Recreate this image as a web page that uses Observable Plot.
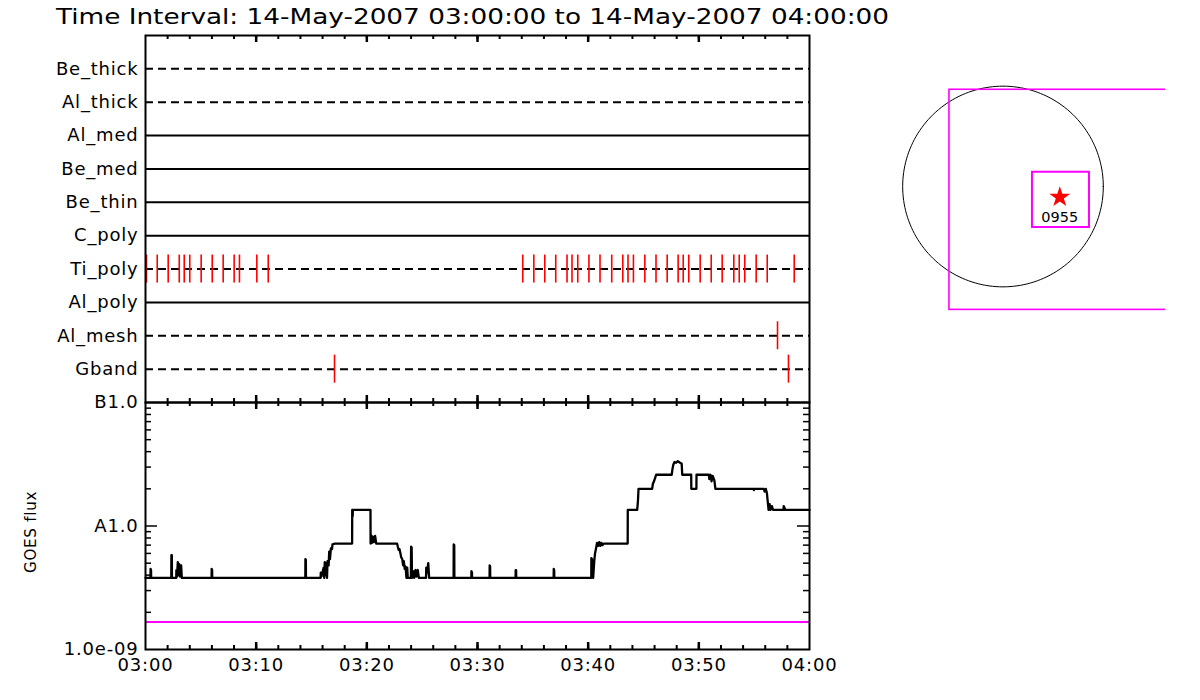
<!DOCTYPE html>
<html><head><meta charset="utf-8">
<script src="https://cdn.jsdelivr.net/npm/d3@7"></script>
<script src="https://cdn.jsdelivr.net/npm/@observablehq/plot@0.6"></script>
<style>
body{margin:0;background:#fff;}
#root{position:relative;width:1200px;height:700px;overflow:hidden;background:#fff;}
#root > svg{position:absolute;}
</style></head><body><div id="root"></div>
<script>
// ---------- data ----------
const titleText = "Time Interval: 14-May-2007 03:00:00 to 14-May-2007 04:00:00";
const rows = ["Be_thick","Al_thick","Al_med","Be_med","Be_thin","C_poly","Ti_poly","Al_poly","Al_mesh","Gband"];
const rowDashed = [true,true,false,false,false,false,true,false,true,true];
// event times, minutes after 03:00
const tiPolyMinutes = [0.09,1.06,2.05,3.05,3.50,4.00,5.03,6.03,7.02,8.01,8.49,10.06,11.09,
  34.09,35.09,36.08,37.07,38.09,38.54,39.06,40.07,41.07,42.13,43.13,43.60,44.09,45.12,46.13,
  47.14,48.13,48.59,49.09,50.12,51.12,52.11,53.16,53.65,54.15,55.18,56.18,58.62];
const alMeshMinutes = [57.11];
const gbandMinutes = [17.08, 58.10];
const xTickLabels = ["03:00","03:10","03:20","03:30","03:40","03:50","04:00"];
const yTickValues = [1e-9, 1e-8, 1e-7];
const yTickLabels = ["1.0e-09", "A1.0", "B1.0"];
const yLabel = "GOES flux";
const goesMinutes = [0,0.45,0.46,0.50,0.51,2.33,2.34,2.38,2.39,2.78,2.79,2.85,2.92,2.98,3.05,3.10,3.22,3.28,
  5.97,5.98,6.02,6.03,14.44,14.45,14.49,14.50,15.82,15.84,15.90,16.10,16.15,16.20,16.27,16.33,16.40,16.45,
  16.55,16.60,16.67,16.75,16.85,16.90,17.11,18.67,18.68,18.72,18.74,20.33,20.34,20.40,20.46,20.55,20.65,
  20.75,20.85,22.74,22.80,22.88,22.95,23.04,23.10,23.20,23.28,23.34,23.42,23.50,23.58,23.65,23.70,23.98,
  24.00,24.05,24.08,24.20,24.28,24.40,24.48,24.60,24.70,25.35,25.37,25.45,25.55,25.63,27.84,27.85,27.90,
  27.91,29.44,29.45,29.50,29.51,31.09,31.10,31.14,31.15,33.44,33.45,33.49,33.50,36.88,36.89,36.93,36.94,
  40.28,40.29,40.35,40.38,40.45,40.55,40.62,40.70,40.80,40.90,41.00,41.10,41.20,41.30,41.40,43.57,43.58,
  44.43,44.50,44.55,45.78,45.85,45.95,46.05,46.14,47.55,47.62,47.70,47.80,47.95,48.10,48.30,48.45,48.50,
  49.31,49.32,49.78,49.79,50.90,50.95,51.05,51.15,51.25,51.40,51.50,54.95,54.97,55.00,55.87,55.95,56.05,
  56.15,56.30,56.40,56.47,56.60,56.70,57.65,57.67,57.75,57.80,60];
const goesFlux = [3.8e-9,3.8e-9,4.5e-9,4.4e-9,3.8e-9,3.8e-9,5.8e-9,5.8e-9,3.8e-9,3.8e-9,4.4e-9,3.9e-9,5.1e-9,4.0e-9,4.9e-9,3.9e-9,4.8e-9,3.8e-9,
  3.8e-9,4.5e-9,4.4e-9,3.8e-9,3.8e-9,5.4e-9,5.3e-9,3.8e-9,3.8e-9,4.2e-9,3.9e-9,4.6e-9,3.8e-9,5.1e-9,4.0e-9,5.0e-9,3.8e-9,5.2e-9,
  4.8e-9,6.2e-9,5.4e-9,6.6e-9,6.5e-9,7.1e-9,7.2e-9,7.2e-9,1.35e-8,1.2e-8,1.35e-8,1.35e-8,7.2e-9,8.4e-9,7.3e-9,8.2e-9,7.4e-9,
  8.3e-9,7.2e-9,7.2e-9,6.8e-9,6.4e-9,6.5e-9,6.0e-9,5.6e-9,5.4e-9,4.8e-9,5.2e-9,4.5e-9,4.7e-9,3.8e-9,4.6e-9,3.8e-9,3.8e-9,
  6.8e-9,6.7e-9,3.8e-9,4.3e-9,3.8e-9,4.4e-9,3.9e-9,4.4e-9,3.8e-9,3.8e-9,4.6e-9,4.2e-9,5.0e-9,3.8e-9,3.8e-9,7.1e-9,7.0e-9,
  3.8e-9,3.8e-9,4.3e-9,4.2e-9,3.8e-9,3.8e-9,4.8e-9,4.7e-9,3.8e-9,3.8e-9,4.4e-9,4.4e-9,3.8e-9,3.8e-9,4.5e-9,4.4e-9,3.8e-9,
  3.8e-9,5.5e-9,5.4e-9,4.2e-9,3.8e-9,5.2e-9,6.0e-9,6.5e-9,7.3e-9,6.9e-9,7.4e-9,6.9e-9,7.3e-9,7.0e-9,7.2e-9,7.2e-9,1.35e-8,
  1.35e-8,1.6e-8,2.0e-8,2.0e-8,2.2e-8,2.3e-8,2.45e-8,2.6e-8,2.6e-8,2.9e-8,3.15e-8,3.3e-8,3.25e-8,3.35e-8,3.25e-8,3.2e-8,2.6e-8,
  2.6e-8,2.0e-8,2.0e-8,2.6e-8,2.6e-8,2.4e-8,2.6e-8,2.3e-8,2.55e-8,2.35e-8,2.0e-8,2.0e-8,1.95e-8,2.0e-8,2.0e-8,1.9e-8,2.0e-8,
  1.85e-8,1.35e-8,1.5e-8,1.35e-8,1.45e-8,1.35e-8,1.35e-8,1.45e-8,1.4e-8,1.35e-8,1.35e-8];
const magentaFlux = 1.67e-9;
// solar image panel (arcsec)
const sunRadius = 950;
const fovX = [-507, 1800];
const fovY = [-1168, 916];
const flareBoxX = [279, 819];
const flareBoxY = [-388, 135];
const flareX = 538;
const flareY = -101;
const flareLabel = "0955";

// ---------- helpers ----------
const FONT = '"DejaVu Sans", sans-serif';
const MAGENTA = "#ff00ff";
const t0 = Date.UTC(2007, 4, 14, 3, 0, 0);
const toDate = m => new Date(t0 + m * 60000);
const xDomain = [toDate(0), toDate(60)];
const xTickDates = xTickLabels.map(s => new Date(`2007-05-14T${s}:00Z`));
const fmtX = d => xTickLabels[xTickDates.findIndex(t => +t === +d)] ?? "";
const fmtY = d => yTickLabels[yTickValues.findIndex(v => Math.abs(v - d) / v < 1e-6)] ?? "";
const minorX = d3.utcMinute.every(2).range(xDomain[0], xDomain[1]).filter(d => d > xDomain[0]);
const majorX = xTickDates.slice(1, -1);
const minorY = [1e-9, 1e-8].flatMap(b => d3.range(2, 10).map(k => k * b));

const events = [
  ...tiPolyMinutes.map(m => ({row: "Ti_poly", time: toDate(m)})),
  ...alMeshMinutes.map(m => ({row: "Al_mesh", time: toDate(m)})),
  ...gbandMinutes.map(m => ({row: "Gband", time: toDate(m)}))
];
const goesData = goesMinutes.map((m, i) => ({time: toDate(m), flux: goesFlux[i]}));

const root = document.getElementById("root");

// ---------- top panel ----------
const W = 850, ML = 145, MR = 41;
const topH = 404, topMT = 35, topMB = 2;
const topFrameH = topH - topMT - topMB;
const bandStep = topFrameH / (rows.length + 1);
const tickInset = bandStep / 2 - 14;
const topPlot = Plot.plot({
  width: W, height: topH, marginLeft: ML, marginRight: MR, marginTop: topMT, marginBottom: topMB,
  style: {fontFamily: FONT, fontSize: "18px", letterSpacing: "0.8px", color: "black", background: "transparent"},
  x: {type: "utc", domain: xDomain, axis: null},
  y: {type: "band", domain: rows, paddingInner: 0, paddingOuter: 0.5, round: false, axis: "left", tickSize: 0, tickPadding: 7, label: null},
  marks: [
    Plot.ruleY(rows.filter((r, i) => !rowDashed[i]), {stroke: "black", strokeWidth: 2}),
    Plot.ruleY(rows.filter((r, i) => rowDashed[i]), {stroke: "black", strokeWidth: 2, strokeDasharray: "8,5"}),
    Plot.tickX(events, {x: "time", y: "row", stroke: "red", strokeWidth: 1.6, insetTop: tickInset, insetBottom: tickInset}),
    Plot.tickX(minorX, {x: d => d, stroke: "black", strokeWidth: 2, insetBottom: topFrameH - 4}),
    Plot.tickX(majorX, {x: d => d, stroke: "black", strokeWidth: 2.5, insetBottom: topFrameH - 7}),
    Plot.tickX(minorX, {x: d => d, stroke: "black", strokeWidth: 2, insetTop: topFrameH - 4}),
    Plot.tickX(majorX, {x: d => d, stroke: "black", strokeWidth: 2.5, insetTop: topFrameH - 7}),
    Plot.frame({stroke: "black", strokeWidth: 2})
  ]
});
topPlot.style.left = "0px"; topPlot.style.top = "0px";
root.appendChild(topPlot);

// ---------- GOES panel ----------
const gH = 310, gMT = 12, gMB = 51;
const gFrameH = gH - gMT - gMB;
const gFrameW = W - ML - MR;
const goesPlot = Plot.plot({
  width: W, height: gH, marginLeft: ML, marginRight: MR, marginTop: gMT, marginBottom: gMB,
  style: {fontFamily: FONT, fontSize: "18px", letterSpacing: "0.8px", color: "black", background: "transparent"},
  x: {type: "utc", domain: xDomain, ticks: xTickDates, tickFormat: fmtX, tickSize: 0, tickPadding: 9, label: null},
  y: {type: "log", domain: [1e-9, 1e-7], ticks: yTickValues, tickFormat: fmtY, tickSize: 0, tickPadding: 7, label: null},
  marks: [
    Plot.ruleY([magentaFlux], {stroke: MAGENTA, strokeWidth: 2}),
    Plot.line(goesData, {x: "time", y: "flux", stroke: "black", strokeWidth: 2.3}),
    Plot.tickX(minorX, {x: d => d, stroke: "black", strokeWidth: 2, insetBottom: gFrameH - 4}),
    Plot.tickX(majorX, {x: d => d, stroke: "black", strokeWidth: 2.5, insetBottom: gFrameH - 7}),
    Plot.tickX(minorX, {x: d => d, stroke: "black", strokeWidth: 2, insetTop: gFrameH - 4}),
    Plot.tickX(majorX, {x: d => d, stroke: "black", strokeWidth: 2.5, insetTop: gFrameH - 7}),
    Plot.tickY(minorY, {y: d => d, stroke: "black", strokeWidth: 1.5, insetRight: gFrameW - 6}),
    Plot.tickY([1e-8], {y: d => d, stroke: "black", strokeWidth: 1.5, insetRight: gFrameW - 12}),
    Plot.tickY(minorY, {y: d => d, stroke: "black", strokeWidth: 1.5, insetLeft: gFrameW - 6}),
    Plot.tickY([1e-8], {y: d => d, stroke: "black", strokeWidth: 1.5, insetLeft: gFrameW - 12}),
    Plot.text([yLabel], {text: d => d, frameAnchor: "left", rotate: -90, dx: -114, dy: 47, fontSize: 15}),
    Plot.frame({stroke: "black", strokeWidth: 2})
  ]
});
goesPlot.style.left = "0px"; goesPlot.style.top = "390px";
root.appendChild(goesPlot);

// ---------- solar disk panel ----------
const limb = d3.range(0, 361, 2).map(a => ({x: sunRadius * Math.cos(a * Math.PI / 180), y: sunRadius * Math.sin(a * Math.PI / 180)}));
const diskPlot = Plot.plot({
  width: 285, height: 280, margin: 0,
  style: {fontFamily: FONT, fontSize: "14px", color: "black", background: "transparent"},
  x: {domain: [-1160, 1539], axis: null},
  y: {domain: [-1458, 1193], axis: null},
  marks: [
    Plot.line(limb, {x: "x", y: "y", stroke: "black", strokeWidth: 1, curve: "linear-closed"}),
    Plot.rect([{}], {x1: fovX[0], x2: fovX[1], y1: fovY[0], y2: fovY[1], fill: "none", stroke: MAGENTA, strokeWidth: 1.6, clip: true}),
    Plot.rect([{}], {x1: flareBoxX[0], x2: flareBoxX[1], y1: flareBoxY[0], y2: flareBoxY[1], fill: "none", stroke: MAGENTA, strokeWidth: 2}),
    Plot.dot([{x: flareX, y: flareY}], {x: "x", y: "y", symbol: "star", r: 6.6, fill: "red", stroke: "none"}),
    Plot.text([{x: flareX, y: flareY, label: flareLabel}], {x: "x", y: "y", text: "label", dy: 20, fontSize: 14.5, fill: "black"})
  ]
});
diskPlot.style.left = "880px"; diskPlot.style.top = "60px";
root.appendChild(diskPlot);

// ---------- title ----------
const ns = "http://www.w3.org/2000/svg";
const tsvg = document.createElementNS(ns, "svg");
tsvg.setAttribute("width", "900"); tsvg.setAttribute("height", "32");
tsvg.style.left = "0px"; tsvg.style.top = "0px";
const tt = document.createElementNS(ns, "text");
tt.setAttribute("x", "56"); tt.setAttribute("y", "24");
tt.setAttribute("font-family", "DejaVu Sans, sans-serif");
tt.setAttribute("font-size", "22");
tt.setAttribute("textLength", "833");
tt.setAttribute("lengthAdjust", "spacingAndGlyphs");
tt.setAttribute("fill", "black");
tt.textContent = titleText;
tsvg.appendChild(tt);
root.appendChild(tsvg);
</script></body></html>
